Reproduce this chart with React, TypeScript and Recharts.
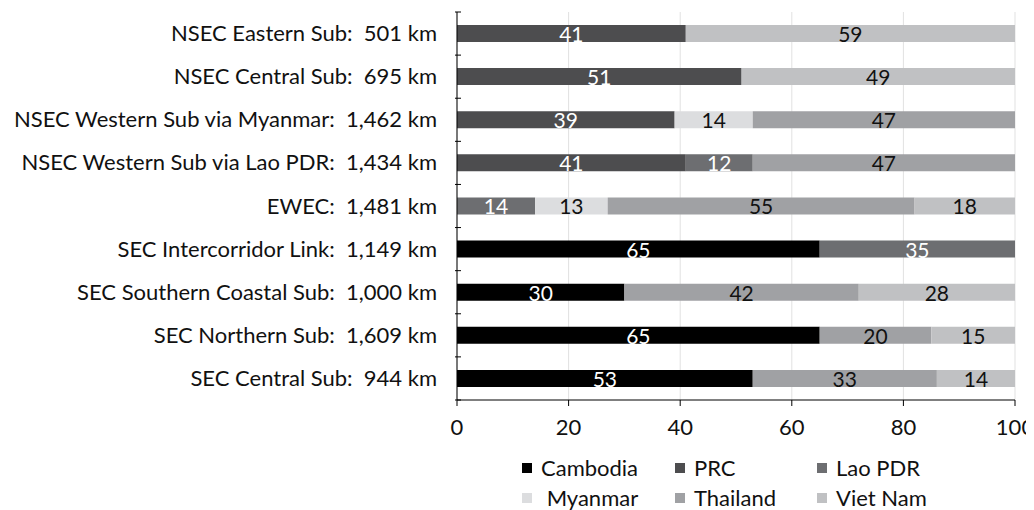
import { BarChart, Bar, XAxis, YAxis, CartesianGrid, Legend, LabelList } from 'recharts'

const corridors = [
  'NSEC Eastern Sub:  501 km',
  'NSEC Central Sub:  695 km',
  'NSEC Western Sub via Myanmar:  1,462 km',
  'NSEC Western Sub via Lao PDR:  1,434 km',
  'EWEC:  1,481 km',
  'SEC Intercorridor Link:  1,149 km',
  'SEC Southern Coastal Sub:  1,000 km',
  'SEC Northern Sub:  1,609 km',
  'SEC Central Sub:  944 km',
]

const cambodia = [0, 0, 0, 0, 0, 65, 30, 65, 53]
const prc = [41, 51, 39, 41, 0, 0, 0, 0, 0]
const laoPdr = [0, 0, 0, 12, 14, 35, 0, 0, 0]
const myanmar = [0, 0, 14, 0, 13, 0, 0, 0, 0]
const thailand = [0, 0, 47, 47, 55, 0, 42, 20, 33]
const vietNam = [59, 49, 0, 0, 18, 0, 28, 15, 14]

const xTicks = [0, 20, 40, 60, 80, 100]

const FONT = 'Lato, sans-serif'

const series = [
  { key: 'cambodia', name: 'Cambodia', values: cambodia, color: '#000000', label: '#ffffff' },
  { key: 'prc', name: 'PRC', values: prc, color: '#4d4d4f', label: '#ffffff' },
  { key: 'lao', name: 'Lao PDR', values: laoPdr, color: '#6d6e71', label: '#ffffff' },
  { key: 'myanmar', name: 'Myanmar', values: myanmar, color: '#dcdddf', label: '#111111' },
  { key: 'thailand', name: 'Thailand', values: thailand, color: '#a0a1a4', label: '#111111' },
  { key: 'vietnam', name: 'Viet Nam', values: vietNam, color: '#c0c1c3', label: '#111111' },
]

// a couple of labels in the source don't follow the per-series colour
const labelOverride: Record<string, string> = {
  'thailand-6': '#ffffff',
  'lao-5': '#111111',
}

const data = corridors.map((name, i) => {
  const row: Record<string, any> = { name }
  series.forEach((s) => {
    row[s.key] = s.values[i]
  })
  return row
})

const ROW = 388 / corridors.length

function CorridorTick(props: any) {
  const { x, y, payload, index } = props
  const top = y - ROW / 2
  return (
    <g>
      <line x1={x + 6} x2={x + 12} y1={top} y2={top} stroke="#000" />
      {index === corridors.length - 1 && (
        <line x1={x + 6} x2={x + 12} y1={top + ROW} y2={top + ROW} stroke="#000" />
      )}
      <text
        x={x - 12}
        y={y - 1}
        textAnchor="end"
        dominantBaseline="central"
        fontSize={22}
        fontFamily={FONT}
        fill="#111"
        style={{ whiteSpace: 'pre' }}
      >
        {payload.value}
      </text>
    </g>
  )
}

function makeLabel(key: string, defColor: string) {
  return (props: any) => {
    const { x, y, width, height, value, index } = props
    if (!value) return null
    const fill = labelOverride[`${key}-${index}`] || defColor
    return (
      <text
        x={x + width / 2}
        y={y + height / 2}
        textAnchor="middle"
        dominantBaseline="central"
        fontSize={21}
        fontFamily={FONT}
        fill={fill}
      >
        {value}
      </text>
    )
  }
}

function LegendGrid() {
  const cols = [514, 667, 809]
  return (
    <div style={{ position: 'relative', height: 76, fontFamily: FONT, fontSize: 22, color: '#111' }}>
      {series.map((s, i) => (
        <div
          key={s.key}
          style={{
            position: 'absolute',
            left: cols[i % 3],
            top: i < 3 ? 22 : 52,
            display: 'flex',
            alignItems: 'center',
            whiteSpace: 'pre',
            lineHeight: '24px',
          }}
        >
          <span style={{ width: 10, height: 10, background: s.color, display: 'inline-block', marginRight: 9 }} />
          <span>{i === 3 ? ' ' + s.name : s.name}</span>
        </div>
      ))}
    </div>
  )
}

export default function App() {
  return (
    <BarChart
      width={1026}
      height={502}
      data={data}
      layout="vertical"
      margin={{ top: 4, right: 19, left: 0, bottom: 0 }}
      barSize={17}
    >
      <CartesianGrid horizontal={false} stroke="#e1e1e1" />
      <XAxis
        type="number"
        domain={[0, 100]}
        ticks={xTicks}
        tick={{ fontSize: 22, fontFamily: FONT, fill: '#111', dy: 11 }}
        tickLine={{ stroke: '#000' }}
        axisLine={{ stroke: '#000' }}
        tickSize={6}
        height={34}
      />
      <XAxis xAxisId="top" orientation="top" type="number" domain={[0, 100]} tick={false} tickLine={false} axisLine={{ stroke: '#000' }} height={0} />
      <YAxis
        type="category"
        dataKey="name"
        width={449}
        tick={<CorridorTick />}
        tickLine={false}
        axisLine={{ stroke: '#000' }}
        interval={0}
      />
      <YAxis yAxisId="right" orientation="right" type="category" dataKey="name" tick={false} tickLine={false} axisLine={{ stroke: '#000' }} width={0} />
      <Legend verticalAlign="bottom" content={<LegendGrid />} wrapperStyle={{ left: 0, width: 1026, bottom: 0 }} />
      {series.map((s) => (
        <Bar key={s.key} dataKey={s.key} name={s.name} stackId="a" fill={s.color} isAnimationActive={false}>
          <LabelList dataKey={s.key} content={makeLabel(s.key, s.label)} />
        </Bar>
      ))}
    </BarChart>
  )
}
